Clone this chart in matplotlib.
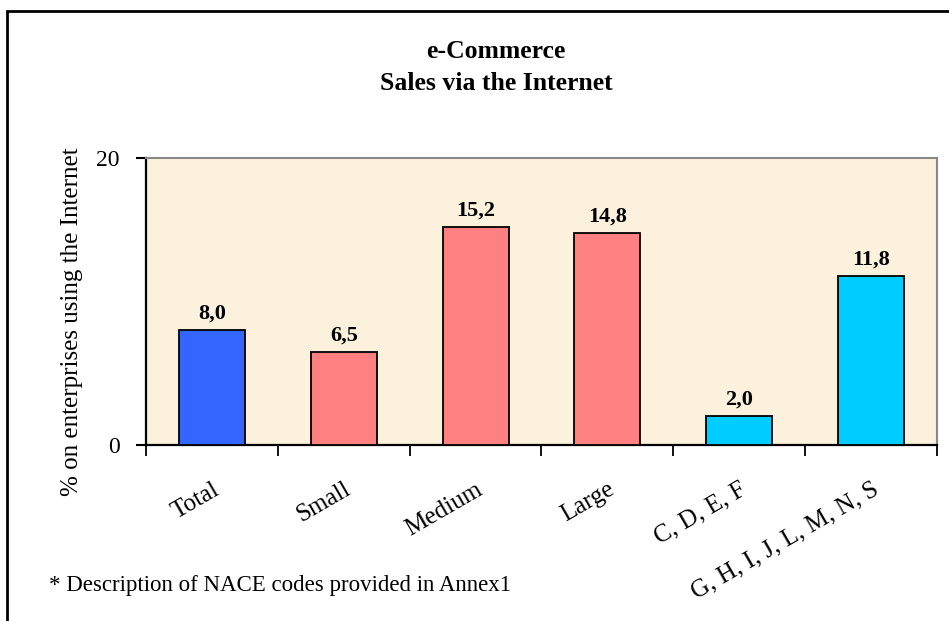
import matplotlib
matplotlib.use("Agg")
import matplotlib.pyplot as plt
from matplotlib.patches import Rectangle
import numpy as np

categories = ["Total", "Small", "Medium", "Large", "C, D, E, F", "G, H, I, J, L, M, N, S"]
values = [8.0, 6.5, 15.2, 14.8, 2.0, 11.8]
value_labels = ["8,0", "6,5", "15,2", "14,8", "2,0", "11,8"]
colors = ["#3366FF", "#FF8080", "#FF8080", "#FF8080", "#00CCFF", "#00CCFF"]
yticks = [0, 20]

plt.rcParams['font.family'] = ['Liberation Serif', 'DejaVu Serif']

fig = plt.figure(figsize=(9.49, 6.21), dpi=100)
fig.patch.set_facecolor("white")

# outer frame
fig.patches.append(Rectangle((7/949, -0.05), 1.2, 1 - 11/621 + 0.05,
                             transform=fig.transFigure, fill=False,
                             edgecolor="black", linewidth=2))

ax = fig.add_axes([146/949, 1 - 445/621, (937 - 146)/949, (445 - 158)/621])
ax.set_facecolor("#FBF1DC")

x = np.arange(len(categories))
ax.bar(x, values, width=0.5, color=colors, edgecolor="black", linewidth=1.3, zorder=3)

for xi, v, lab in zip(x, values, value_labels):
    ax.text(xi, v + 0.45, lab, ha="center", va="bottom", fontsize=16,
            fontweight="bold", zorder=4)

ax.set_xlim(-0.5, len(categories) - 0.5)
ax.set_ylim(0, 20)
ax.set_yticks(yticks)
ax.set_yticklabels([str(t) for t in yticks], fontsize=17)
ax.tick_params(axis="y", direction="out", length=7, width=1.5, pad=12)

ax.set_xticks(x)
ax.set_xticklabels(categories, fontsize=18, rotation=30, ha="right",
                   va="top", rotation_mode="anchor")
ax.tick_params(axis="x", which="major", length=0, pad=24)
ax.set_xticks(np.arange(len(categories) + 1) - 0.5, minor=True)
ax.tick_params(axis="x", which="minor", direction="out", length=8, width=1.3)

for s in ["left", "bottom"]:
    ax.spines[s].set_color("black")
    ax.spines[s].set_linewidth(1.6)
for s in ["top", "right"]:
    ax.spines[s].set_color("#888888")
    ax.spines[s].set_linewidth(1.5)

ax.set_ylabel("% on enterprises using the Internet", fontsize=18)
ax.yaxis.set_label_coords((72 - 146)/791, 0.43)
ax.yaxis.label.set_va("center")

fig.text(496/949, 1 - 51/621, "e-Commerce", ha="center", va="center",
         fontsize=18.5, fontweight="bold")
fig.text(496/949, 1 - 84/621, "Sales via the Internet", ha="center", va="center",
         fontsize=18.5, fontweight="bold")

fig.text(49/949, 1 - 586/621, "* Description of NACE codes provided in Annex1",
         ha="left", va="center", fontsize=16.5)

fig.savefig("out.png", dpi=100)
